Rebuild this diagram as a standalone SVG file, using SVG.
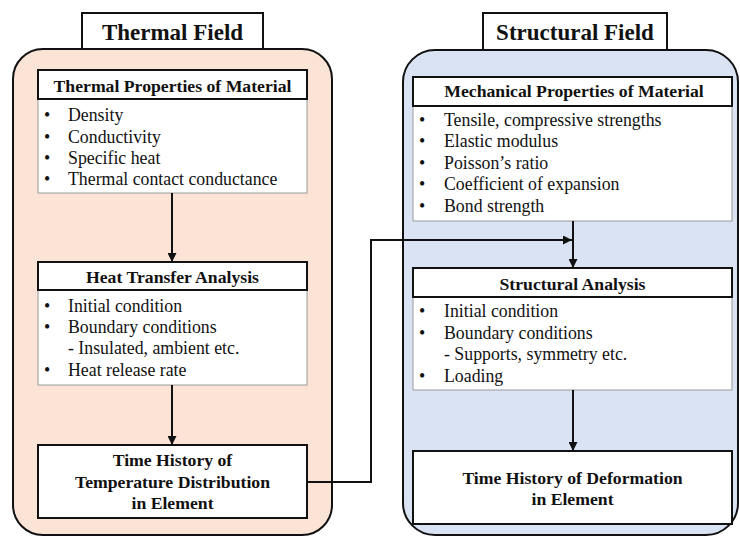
<svg xmlns="http://www.w3.org/2000/svg" width="740" height="537" viewBox="0 0 740 537">
<defs>
<style>
text{font-family:"Liberation Serif","Times New Roman",serif;fill:#111}
.t{font-size:23px;font-weight:bold;text-anchor:middle}
.h{font-size:17.7px;font-weight:bold;text-anchor:middle}
.b{font-size:17.8px}
.hdr{fill:#fff;stroke:#111;stroke-width:2}
.body{fill:#fff;stroke:#999;stroke-width:1}
.pl{fill:#FBE3D6;stroke:#111;stroke-width:2}
.pr{fill:#DAE3F3;stroke:#111;stroke-width:2}
.c{fill:none;stroke:#111;stroke-width:2}
</style>
<marker id="ah" viewBox="0 0 10 10" refX="10" refY="5" markerWidth="9" markerHeight="9" markerUnits="userSpaceOnUse" orient="auto"><path d="M0,0L10,5L0,10z" fill="#111"/></marker>
</defs>
<g id="thermal-panel">
<rect class="pl" x="13" y="49" width="319" height="486" rx="30"/>
<rect class="hdr" x="82" y="13" width="181" height="36"/>
<text class="t" x="172.5" y="40">Thermal Field</text>
</g>
<g id="structural-panel">
<rect class="pr" x="403" y="50" width="335" height="485" rx="32"/>
<rect class="hdr" x="483" y="13" width="184" height="37"/>
<text class="t" x="575" y="40">Structural Field</text>
</g>
<g id="thermal-properties">
<rect class="body" x="38" y="99" width="269" height="94"/>
<rect class="hdr" x="38" y="70" width="269" height="29"/>
<text class="h" x="172.5" y="92">Thermal Properties of Material</text>
<text class="b"><tspan x="44" y="121">•</tspan><tspan x="68" y="121">Density</tspan><tspan x="44" y="143">•</tspan><tspan x="68" y="143">Conductivity</tspan><tspan x="44" y="164">•</tspan><tspan x="68" y="164">Specific heat</tspan><tspan x="44" y="185">•</tspan><tspan x="68" y="185">Thermal contact conductance</tspan></text>
</g>
<g id="heat-transfer">
<rect class="body" x="38" y="290" width="269" height="95"/>
<rect class="hdr" x="38" y="262" width="269" height="28"/>
<text class="h" x="172.5" y="283">Heat Transfer Analysis</text>
<text class="b"><tspan x="44" y="312">•</tspan><tspan x="68" y="312">Initial condition</tspan><tspan x="44" y="333">•</tspan><tspan x="68" y="333">Boundary conditions</tspan><tspan x="68" y="354">- Insulated, ambient etc.</tspan><tspan x="44" y="376">•</tspan><tspan x="68" y="376">Heat release rate</tspan></text>
</g>
<g id="temperature-history">
<rect class="hdr" x="38" y="445" width="269" height="73"/>
<text class="h" x="172.5" y="466">Time History of</text>
<text class="h" x="172.5" y="488">Temperature Distribution</text>
<text class="h" x="172.5" y="509">in Element</text>
</g>
<g id="mechanical-properties">
<rect class="body" x="413" y="106" width="319" height="115"/>
<rect class="hdr" x="413" y="77" width="319" height="29"/>
<text class="h" x="574" y="97">Mechanical Properties of Material</text>
<text class="b"><tspan x="419" y="126">•</tspan><tspan x="444" y="126">Tensile, compressive strengths</tspan><tspan x="419" y="147">•</tspan><tspan x="444" y="147">Elastic modulus</tspan><tspan x="419" y="169">•</tspan><tspan x="444" y="169">Poisson’s ratio</tspan><tspan x="419" y="190">•</tspan><tspan x="444" y="190">Coefficient of expansion</tspan><tspan x="419" y="212">•</tspan><tspan x="444" y="212">Bond strength</tspan></text>
</g>
<g id="structural-analysis">
<rect class="body" x="413" y="297" width="319" height="93"/>
<rect class="hdr" x="413" y="268" width="319" height="29"/>
<text class="h" x="572.5" y="290">Structural Analysis</text>
<text class="b"><tspan x="419" y="317">•</tspan><tspan x="444" y="317">Initial condition</tspan><tspan x="419" y="339">•</tspan><tspan x="444" y="339">Boundary conditions</tspan><tspan x="444" y="360">- Supports, symmetry etc.</tspan><tspan x="419" y="382">•</tspan><tspan x="444" y="382">Loading</tspan></text>
</g>
<g id="deformation-history">
<rect class="hdr" x="413" y="451" width="319" height="73"/>
<text class="h" x="572.5" y="484">Time History of Deformation</text>
<text class="h" x="572.5" y="505">in Element</text>
</g>
<g id="connectors">
<line class="c" x1="172" y1="193" x2="172" y2="262" marker-end="url(#ah)"/>
<line class="c" x1="172" y1="385" x2="172" y2="445" marker-end="url(#ah)"/>
<line class="c" x1="573" y1="221" x2="573" y2="268" marker-end="url(#ah)"/>
<line class="c" x1="573" y1="390" x2="573" y2="451" marker-end="url(#ah)"/>
<polyline class="c" points="307,482 371,482 371,240 572,240" marker-end="url(#ah)"/>
</g>
</svg>
